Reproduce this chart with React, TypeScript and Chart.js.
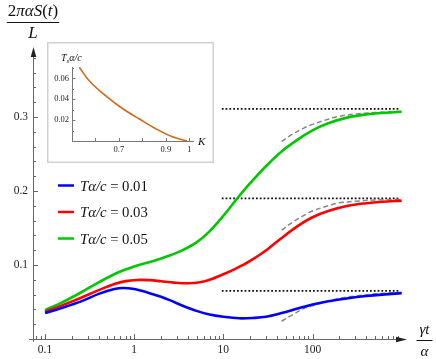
import React, { useEffect, useRef } from "react";
import { Chart, registerables } from "chart.js";
Chart.register(...registerables);

// ---------- main chart data ----------
const tBlue = [0.1, 0.15, 0.25, 0.4, 0.6, 0.75, 1, 1.4, 2, 2.5, 3.5, 5, 7, 10, 15, 22, 30, 45, 70, 100, 150, 250, 400, 600, 1000];
const vBlue = [0.035, 0.0415, 0.0505, 0.061, 0.0675, 0.069, 0.0675, 0.063, 0.057, 0.0525, 0.045, 0.038, 0.033, 0.030, 0.028, 0.0285, 0.030, 0.035, 0.0415, 0.0465, 0.051, 0.055, 0.058, 0.060, 0.062];

const tRed = [0.1, 0.15, 0.25, 0.4, 0.6, 0.8, 1.07, 1.5, 2, 2.8, 4, 5.5, 7, 10, 14, 20, 30, 45, 70, 100, 150, 250, 400, 600, 1000];
const vRed = [0.037, 0.0448, 0.0555, 0.066, 0.0742, 0.0782, 0.0798, 0.0795, 0.078, 0.0762, 0.0753, 0.0768, 0.080, 0.0875, 0.0955, 0.1055, 0.1195, 0.1365, 0.1535, 0.1645, 0.173, 0.180, 0.1835, 0.1855, 0.187];

const tGreen = [0.1, 0.15, 0.25, 0.4, 0.65, 1, 1.5, 2, 2.5, 3.5, 5, 7, 10, 14, 20, 30, 45, 70, 100, 150, 250, 400, 600, 1000];
const vGreen = [0.039, 0.0485, 0.0625, 0.0765, 0.0895, 0.098, 0.104, 0.1088, 0.1128, 0.120, 0.1305, 0.1455, 0.1665, 0.1885, 0.2105, 0.2335, 0.2535, 0.2705, 0.282, 0.2915, 0.2995, 0.3035, 0.3055, 0.307];

const tAsym = [45, 60, 80, 100, 150, 200, 300, 500, 700, 1000];
const asymBlue = [0.024, 0.033, 0.041, 0.045, 0.051, 0.055, 0.058, 0.061, 0.062, 0.063];
const asymRed = [0.147, 0.158, 0.167, 0.173, 0.180, 0.184, 0.186, 0.188, 0.1885, 0.189];
const asymGreen = [0.267, 0.277, 0.285, 0.290, 0.297, 0.301, 0.304, 0.306, 0.307, 0.308];

const plateauT = [9.6, 920];
const plateaus = [0.065, 0.190, 0.311];

const params = ["0.01", "0.03", "0.05"];
const colors = ["rgb(0,0,255)", "rgb(255,0,0)", "rgb(0,200,0)"];

const xMajor = [0.1, 1, 10, 100];
const xMajorLabels = ["0.1", "1", "10", "100"];
const xMinor = [0.08, 0.09, 0.2, 0.3, 0.4, 0.5, 0.6, 0.7, 0.8, 0.9, 2, 3, 4, 5, 6, 7, 8, 9, 20, 30, 40, 50, 60, 70, 80, 90, 200, 300, 400, 500, 600, 700, 800, 900];
const yMajor = [0.1, 0.2, 0.3];
const yMajorLabels = ["0.1", "0.2", "0.3"];
const yMinor = [0.02, 0.04, 0.06, 0.08, 0.12, 0.14, 0.16, 0.18, 0.22, 0.24, 0.26, 0.28, 0.32, 0.34, 0.36, 0.38];

// ---------- inset data ----------
const kVals = [0.531, 0.577, 0.648, 0.718, 0.789, 0.86, 0.931, 0.99];
const tsVals = [0.0705, 0.0567, 0.0424, 0.0306, 0.0208, 0.0114, 0.0038, 0.0];
const insetXTicks = [0.6, 0.7, 0.8, 0.9, 1.0];
const insetXLabelVals = [0.7, 0.9, 1];
const insetXLabels = ["0.7", "0.9", "1"];
const insetYMajor = [0.02, 0.04, 0.06];
const insetYLabels = ["0.02", "0.04", "0.06"];
const insetYMinor = [0.01, 0.03, 0.05, 0.07];

const SERIF = "'Liberation Serif', 'DejaVu Serif', serif";

type Seg = { t: string; it?: boolean; size?: number; dy?: number };

function segWidth(ctx: CanvasRenderingContext2D, segs: Seg[], size: number) {
  let w = 0;
  for (const s of segs) {
    ctx.font = `${s.it ? "italic " : ""}${s.size || size}px ${SERIF}`;
    w += ctx.measureText(s.t).width;
  }
  return w;
}
function drawSegs(ctx: CanvasRenderingContext2D, segs: Seg[], x: number, y: number, size: number) {
  let cx = x;
  ctx.textAlign = "left";
  ctx.textBaseline = "alphabetic";
  for (const s of segs) {
    ctx.font = `${s.it ? "italic " : ""}${s.size || size}px ${SERIF}`;
    ctx.fillText(s.t, cx, y + (s.dy || 0));
    cx += ctx.measureText(s.t).width;
  }
  return cx - x;
}

const mainPlugin = {
  id: "mainDecor",
  beforeDatasetsDraw(chart: any) {
    const ctx: CanvasRenderingContext2D = chart.ctx;
    const xs = chart.scales.x;
    const ys = chart.scales.y;
    const x0 = xs.left;
    const y0 = ys.getPixelForValue(0);
    ctx.save();
    ctx.strokeStyle = "#666";
    ctx.lineWidth = 1;
    ctx.beginPath();
    ctx.moveTo(x0 - 4, y0 + 0.5);
    ctx.lineTo(xs.right - 8, y0 + 0.5);
    ctx.moveTo(x0 + 0.5, y0 + 3);
    ctx.lineTo(x0 + 0.5, ys.top + 8);
    ctx.stroke();
    ctx.beginPath();
    for (const v of xMajor) {
      const px = Math.round(xs.getPixelForValue(v)) + 0.5;
      ctx.moveTo(px, y0);
      ctx.lineTo(px, y0 - 5);
    }
    for (const v of xMinor) {
      const px = Math.round(xs.getPixelForValue(v)) + 0.5;
      ctx.moveTo(px, y0);
      ctx.lineTo(px, y0 - 3);
    }
    for (const v of yMajor) {
      const py = Math.round(ys.getPixelForValue(v)) + 0.5;
      ctx.moveTo(x0, py);
      ctx.lineTo(x0 + 5, py);
    }
    for (const v of yMinor) {
      const py = Math.round(ys.getPixelForValue(v)) + 0.5;
      ctx.moveTo(x0, py);
      ctx.lineTo(x0 + 3, py);
    }
    ctx.stroke();
    ctx.fillStyle = "#222";
    ctx.beginPath();
    ctx.moveTo(xs.right, y0 + 0.5);
    ctx.lineTo(xs.right - 11, y0 + 0.5 - 2.8);
    ctx.lineTo(xs.right - 11, y0 + 0.5 + 2.8);
    ctx.closePath();
    ctx.fill();
    ctx.beginPath();
    ctx.moveTo(x0 + 0.5, ys.top);
    ctx.lineTo(x0 + 0.5 - 2.8, ys.top + 10);
    ctx.lineTo(x0 + 0.5 + 2.8, ys.top + 10);
    ctx.closePath();
    ctx.fill();
    ctx.fillStyle = "#222";
    ctx.font = `11.5px ${SERIF}`;
    ctx.textAlign = "center";
    ctx.textBaseline = "middle";
    xMajor.forEach((v, i) => {
      ctx.fillText(xMajorLabels[i], xs.getPixelForValue(v), y0 + 11);
    });
    ctx.textAlign = "right";
    yMajor.forEach((v, i) => {
      ctx.fillText(yMajorLabels[i], x0 - 5, ys.getPixelForValue(v));
    });
    ctx.restore();
  },
  afterDraw(chart: any) {
    const ctx: CanvasRenderingContext2D = chart.ctx;
    const xs = chart.scales.x;
    ctx.save();
    ctx.fillStyle = "#111";
    const ySegs: Seg[] = [{ t: "2" }, { t: "π", it: true }, { t: "α", it: true }, { t: "S", it: true }, { t: "(" }, { t: "t", it: true }, { t: ")" }];
    const ySize = 17;
    const yw = segWidth(ctx, ySegs, ySize);
    const ycx = xs.left;
    drawSegs(ctx, ySegs, ycx - yw / 2, 16, ySize);
    ctx.strokeStyle = "#111";
    ctx.lineWidth = 1;
    ctx.beginPath();
    ctx.moveTo(ycx - yw / 2 - 1, 22.5);
    ctx.lineTo(ycx + yw / 2 + 1, 22.5);
    ctx.stroke();
    const lw = segWidth(ctx, [{ t: "L", it: true }], ySize);
    drawSegs(ctx, [{ t: "L", it: true }], ycx - lw / 2, 37.5, ySize);
    const xSize = 15;
    const xSegs: Seg[] = [{ t: "γt", it: true }];
    const xw = segWidth(ctx, xSegs, xSize);
    const xcx = xs.right + 17.5;
    drawSegs(ctx, xSegs, xcx - xw / 2, 334, xSize);
    ctx.beginPath();
    ctx.moveTo(xcx - 8, 340.5);
    ctx.lineTo(xcx + 8, 340.5);
    ctx.stroke();
    const aw = segWidth(ctx, [{ t: "α", it: true }], xSize);
    drawSegs(ctx, [{ t: "α", it: true }], xcx - aw / 2, 356, xSize);
    const legY = [185.5, 212, 238.5];
    params.forEach((p, i) => {
      ctx.strokeStyle = colors[i];
      ctx.lineWidth = 2.5;
      ctx.beginPath();
      ctx.moveTo(58, legY[i]);
      ctx.lineTo(74, legY[i]);
      ctx.stroke();
      ctx.fillStyle = "#111";
      drawSegs(ctx, [{ t: "Tα/c", it: true }, { t: " = " + p }], 80, legY[i] + 5, 14.7);
    });
    ctx.restore();
  },
};

const insetPlugin = {
  id: "insetDecor",
  beforeDraw(chart: any) {
    const ctx: CanvasRenderingContext2D = chart.ctx;
    const w = chart.width, h = chart.height;
    ctx.save();
    ctx.fillStyle = "#fff";
    ctx.fillRect(0, 0, w, h);
    ctx.strokeStyle = "#d2d2d2";
    ctx.lineWidth = 1.5;
    ctx.strokeRect(0.75, 0.75, w - 1.5, h - 1.5);
    ctx.restore();
  },
  beforeDatasetsDraw(chart: any) {
    const ctx: CanvasRenderingContext2D = chart.ctx;
    const xs = chart.scales.x;
    const ys = chart.scales.y;
    const x0 = xs.left;
    const y0 = ys.getPixelForValue(0);
    ctx.save();
    ctx.strokeStyle = "#777";
    ctx.lineWidth = 1;
    ctx.beginPath();
    ctx.moveTo(x0, y0 + 0.5);
    ctx.lineTo(xs.right, y0 + 0.5);
    ctx.moveTo(x0 + 0.5, y0);
    ctx.lineTo(x0 + 0.5, ys.top);
    for (const v of insetXTicks) {
      const px = Math.round(xs.getPixelForValue(v)) + 0.5;
      ctx.moveTo(px, y0);
      ctx.lineTo(px, y0 - 3);
    }
    for (const v of insetYMajor) {
      const py = Math.round(ys.getPixelForValue(v)) + 0.5;
      ctx.moveTo(x0, py);
      ctx.lineTo(x0 + 3.5, py);
    }
    for (const v of insetYMinor) {
      const py = Math.round(ys.getPixelForValue(v)) + 0.5;
      ctx.moveTo(x0, py);
      ctx.lineTo(x0 + 2, py);
    }
    ctx.stroke();
    ctx.fillStyle = "#222";
    ctx.font = `8.5px ${SERIF}`;
    ctx.textAlign = "center";
    ctx.textBaseline = "middle";
    insetXLabelVals.forEach((v, i) => {
      ctx.fillText(insetXLabels[i], xs.getPixelForValue(v), y0 + 9);
    });
    ctx.textAlign = "right";
    insetYMajor.forEach((v, i) => {
      ctx.fillText(insetYLabels[i], x0 - 3, ys.getPixelForValue(v));
    });
    ctx.fillStyle = "#111";
    drawSegs(ctx, [{ t: "T", it: true }, { t: "s", it: true, size: 7, dy: 2 }, { t: "α/c", it: true }], 14, 19, 10);
    drawSegs(ctx, [{ t: "K", it: true }], xs.right + 4, y0 + 3.5, 11);
    ctx.restore();
  },
};

function toXY(xs: number[], ys: number[]) {
  return xs.map((x, i) => ({ x, y: ys[i] }));
}

export default function App() {
  const mainRef = useRef<HTMLCanvasElement>(null);
  const insetRef = useRef<HTMLCanvasElement>(null);

  useEffect(() => {
    const curves = [
      [tBlue, vBlue],
      [tRed, vRed],
      [tGreen, vGreen],
    ];
    const asyms = [asymBlue, asymRed, asymGreen];
    const datasets: any[] = [];
    curves.forEach(([t, v], i) => {
      datasets.push({
        data: toXY(t, v),
        borderColor: colors[i],
        borderWidth: 2.6,
        pointRadius: 0,
        fill: false,
        tension: 0.35,
        order: 1,
      });
    });
    asyms.forEach((a) => {
      datasets.push({
        data: toXY(tAsym, a),
        borderColor: "rgb(135,135,135)",
        borderWidth: 1.5,
        borderDash: [5, 3],
        pointRadius: 0,
        fill: false,
        tension: 0.35,
        order: 2,
      });
    });
    plateaus.forEach((p) => {
      datasets.push({
        data: plateauT.map((t) => ({ x: t, y: p })),
        borderColor: "#111",
        borderWidth: 1.8,
        borderDash: [1.8, 2],
        pointRadius: 0,
        fill: false,
        order: 3,
      });
    });

    const main = new Chart(mainRef.current!, {
      type: "line",
      data: { datasets },
      options: {
        animation: false,
        responsive: false,
        devicePixelRatio: 1,
        layout: { padding: { left: 33, right: 29, top: 47, bottom: 20 } },
        plugins: { legend: { display: false }, tooltip: { enabled: false } },
        scales: {
          x: { type: "logarithmic", min: 0.0733, max: 1147, display: false },
          y: { type: "linear", min: 0, max: 0.3946, display: false },
        },
      },
      plugins: [mainPlugin],
    } as any);

    const inset = new Chart(insetRef.current!, {
      type: "line",
      data: {
        datasets: [
          {
            data: toXY(kVals, tsVals),
            borderColor: "rgb(205,105,20)",
            borderWidth: 1.6,
            pointRadius: 0,
            fill: false,
            tension: 0.35,
          },
        ],
      },
      options: {
        animation: false,
        responsive: false,
        devicePixelRatio: 1,
        layout: { padding: { left: 25, right: 20, top: 25, bottom: 22 } },
        plugins: { legend: { display: false }, tooltip: { enabled: false } },
        scales: {
          x: { type: "linear", min: 0.5, max: 1.02, display: false },
          y: { type: "linear", min: 0, max: 0.0708, display: false },
        },
      },
      plugins: [insetPlugin],
    } as any);

    return () => {
      main.destroy();
      inset.destroy();
    };
  }, []);

  return (
    <div style={{ position: "fixed", left: 0, top: 0, width: 436, height: 359, background: "#fff" }}>
      <canvas ref={mainRef} width={436} height={359} style={{ display: "block", position: "absolute", left: 0, top: 0 }} />
      <canvas ref={insetRef} width={167} height={121} style={{ display: "block", position: "absolute", left: 47, top: 42 }} />
    </div>
  );
}
